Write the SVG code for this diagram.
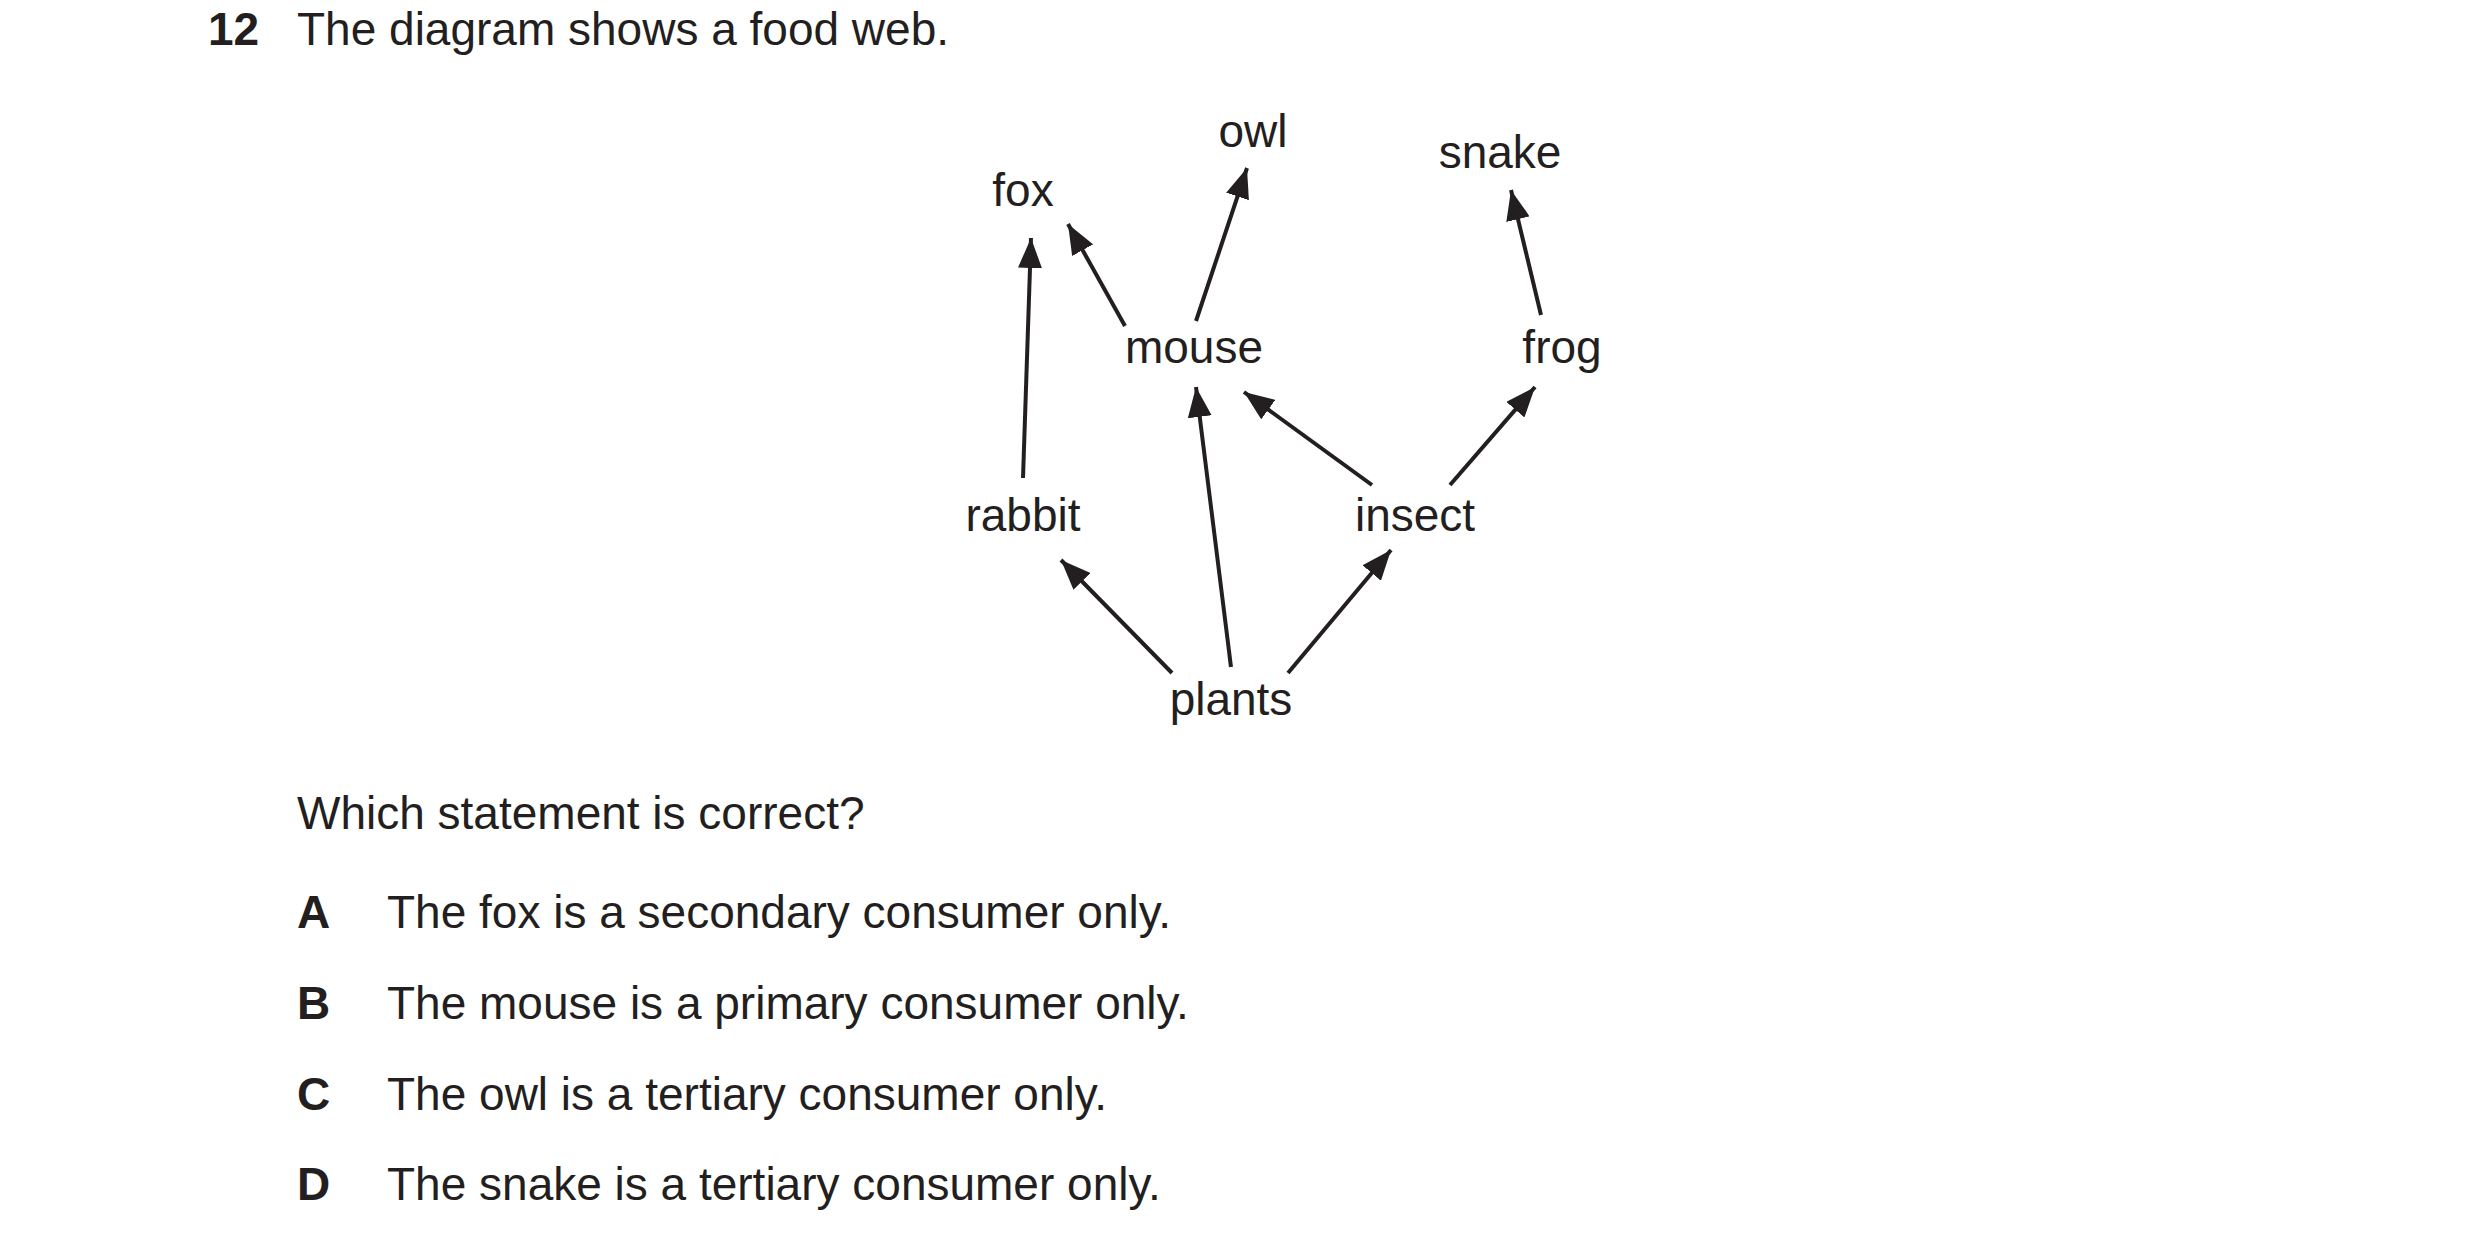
<svg xmlns="http://www.w3.org/2000/svg" width="2480" height="1242" viewBox="0 0 2480 1242">
<style>
text{font-family:"Liberation Sans",Arial,sans-serif;font-size:46px;fill:#231f20}
.n{text-anchor:middle}
.b{font-weight:bold}
.c line{stroke:#231f20;stroke-width:4;marker-end:url(#ah)}
</style>
<defs><marker id="ah" markerUnits="userSpaceOnUse" markerWidth="32" markerHeight="24" refX="30" refY="12" orient="auto"><path d="M0,0 L30,12 L0,24 Z" fill="#231f20"/></marker></defs>
<rect width="2480" height="1242" fill="#fff"/>
<text x="208" y="45" class="b">12</text>
<text x="297" y="45">The diagram shows a food web.</text>
<g transform="translate(-14,-5)">
<g id="fox"><text class="n" x="1037" y="211">fox</text></g>
<g id="owl"><text class="n" x="1267" y="152">owl</text></g>
<g id="snake"><text class="n" x="1514" y="173">snake</text></g>
<g id="mouse"><text class="n" x="1208" y="368">mouse</text></g>
<g id="frog"><text class="n" x="1576" y="368">frog</text></g>
<g id="rabbit"><text class="n" x="1037" y="536">rabbit</text></g>
<g id="insect"><text class="n" x="1429" y="536">insect</text></g>
<g id="plants"><text class="n" x="1245" y="720">plants</text></g>
<g id="connectors" class="c">
<line x1="1037" y1="483" x2="1045" y2="243"/>
<line x1="1139" y1="331" x2="1082" y2="229"/>
<line x1="1210" y1="326" x2="1261" y2="173"/>
<line x1="1555" y1="320" x2="1525" y2="195"/>
<line x1="1386" y1="490" x2="1258" y2="397"/>
<line x1="1464" y1="490" x2="1549" y2="392"/>
<line x1="1186" y1="678" x2="1075" y2="565"/>
<line x1="1245" y1="672" x2="1210" y2="392"/>
<line x1="1302" y1="678" x2="1405" y2="555"/>
</g>
</g>
<text x="297" y="829">Which statement is correct?</text>
<text x="297" y="928" class="b">A</text><text x="387" y="928">The fox is a secondary consumer only.</text>
<text x="297" y="1019" class="b">B</text><text x="387" y="1019">The mouse is a primary consumer only.</text>
<text x="297" y="1110" class="b">C</text><text x="387" y="1110">The owl is a tertiary consumer only.</text>
<text x="297" y="1200" class="b">D</text><text x="387" y="1200">The snake is a tertiary consumer only.</text>
</svg>
